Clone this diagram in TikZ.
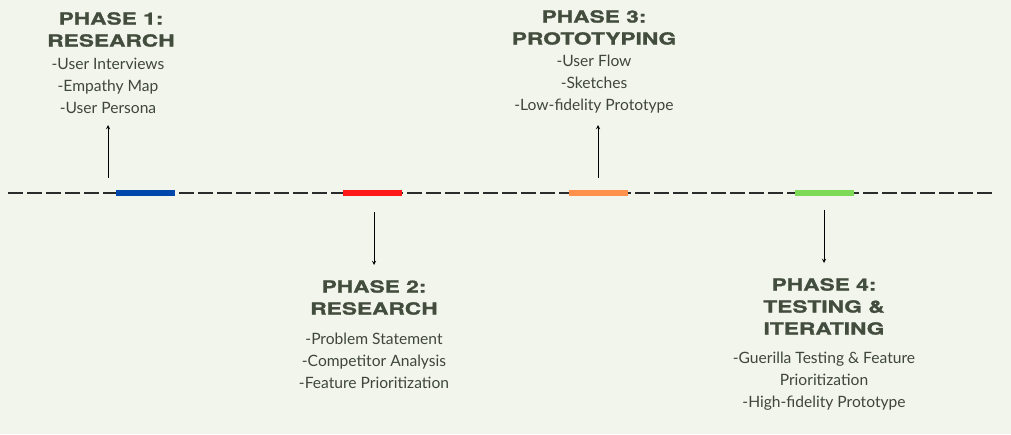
\documentclass[tikz,border=0pt]{standalone}
\usepackage{fontspec}
\setmainfont{Lato}
\newfontfamily\headfont{TeX Gyre Heros}[FakeStretch=1.36, FakeBold=1.2]
\usetikzlibrary{positioning}
\definecolor{paper}{HTML}{F2F5EC}
\definecolor{inkgreen}{HTML}{434D3E}
\definecolor{listgreen}{HTML}{3E473A}
\definecolor{dashgray}{HTML}{2B2B2B}
\definecolor{phaseblue}{HTML}{0047AB}
\definecolor{phasered}{HTML}{FF1A1A}
\definecolor{phaseorange}{HTML}{FF914D}
\definecolor{phasegreen}{HTML}{7ED957}

\tikzset{
  phasebar/.style={rectangle, inner sep=0pt, minimum width=59pt, minimum height=6pt},
  phasehead/.style={anchor=north, align=center, inner sep=0pt, text=inkgreen,
    font=\headfont\bfseries\fontsize{16.7}{22}\selectfont},
  phaselist/.style={anchor=north, align=center, inner sep=0pt, text=listgreen,
    font=\fontsize{15.6}{22}\selectfont},
  pointer/.style={->, >=stealth, line width=0.9pt, black}
}

\begin{document}
\begin{tikzpicture}[x=1pt, y=-1pt]
  \fill[paper] (0,0) rectangle (1011,434);
  \useasboundingbox (0,0) rectangle (1011,434);
  % timeline
  \draw[dashed, dash pattern=on 15pt off 4pt, line width=1.3pt, dashgray] (8,193) -- (993,193);
  \node[phasebar, fill=phaseblue] (bar1) at (145.5,193) {};
  \node[phasebar, fill=phasered] (bar2) at (372.5,193) {};
  \node[phasebar, fill=phaseorange] (bar3) at (598.5,193) {};
  \node[phasebar, fill=phasegreen] (bar4) at (824.5,193) {};
  % phase 1
  \node[phasehead] (head1) at (111,12) {PHASE 1:\\RESEARCH};
  \node[phaselist] (list1) at (108,58) {-User Interviews\\-Empathy Map\\-User Persona};
  \coordinate (tail1) at (108,178);
  \coordinate (tip1) at (108,125);
  \draw[pointer] (tail1) -- (tip1);
  % phase 2
  \node[phasehead] (head2) at (374,280) {PHASE 2:\\RESEARCH};
  \node[phaselist] (list2) at (374,333) {-Problem Statement\\-Competitor Analysis\\-Feature Prioritization};
  \coordinate (tail2) at (374,212);
  \coordinate (tip2) at (374,265);
  \draw[pointer] (tail2) -- (tip2);
  % phase 3
  \node[phasehead] (head3) at (594,10) {PHASE 3:\\PROTOTYPING};
  \node[phaselist] (list3) at (594,55) {-User Flow\\-Sketches\\-Low-fidelity Prototype};
  \coordinate (tail3) at (598,178);
  \coordinate (tip3) at (598,125);
  \draw[pointer] (tail3) -- (tip3);
  % phase 4
  \node[phasehead] (head4) at (824,278) {PHASE 4:\\TESTING \&\\ITERATING};
  \node[phaselist] (list4) at (824,352) {-Guerilla Testing \& Feature\\Prioritization\\-High-fidelity Prototype};
  \coordinate (tail4) at (824,210);
  \coordinate (tip4) at (824,263);
  \draw[pointer] (tail4) -- (tip4);
\end{tikzpicture}
\end{document}
